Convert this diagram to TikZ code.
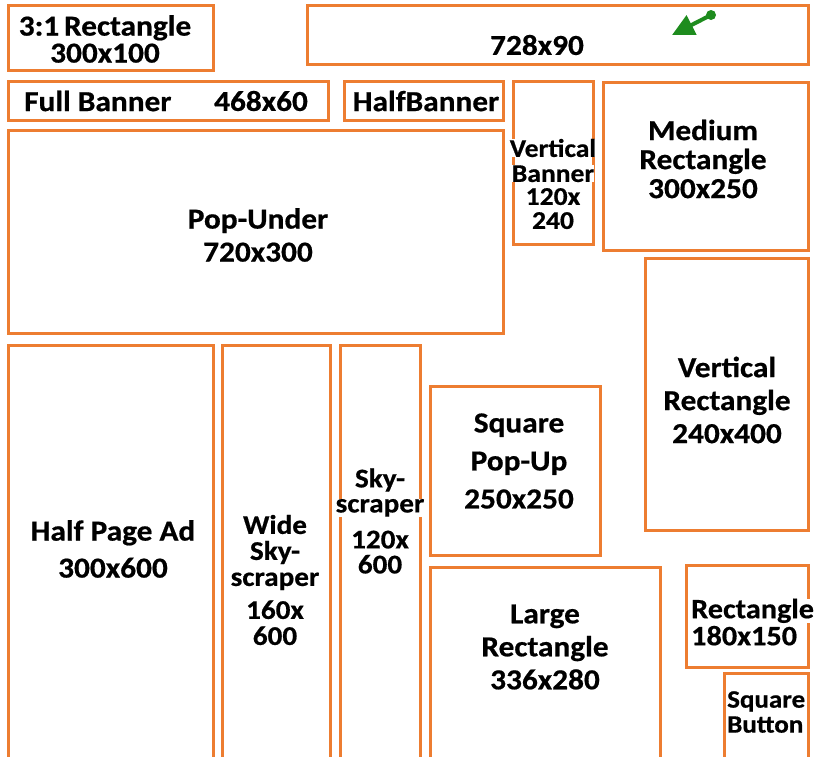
\documentclass[tikz,border=0pt]{standalone}
\usepackage{fontspec}
\newfontfamily\adfont{Carlito Bold}[FakeStretch=1.08, FakeBold=0.6]
\usetikzlibrary{arrows.meta}
\definecolor{adorange}{RGB}{237,125,49}
\definecolor{adgreen}{RGB}{30,140,30}
\newcommand{\wl}[1]{{\setlength\fboxsep{0pt}\colorbox{white}{#1}}}
\tikzset{
  adbox/.style={draw=adorange, line width=3pt},
  adlabel/.style={inner sep=1pt, align=center, text=black,
    font=\fontsize{29}{29}\adfont},
}
\begin{document}
\begin{tikzpicture}[x=1pt,y=-1pt]
\useasboundingbox (0,0) rectangle (818,756);
\fill[white] (0,0) rectangle (818,756);
\clip (0,0) rectangle (818,756);
% boxes
\draw[adbox] (8,5) rectangle (213,70);
\draw[adbox] (307,5) rectangle (808,64);
\draw[adbox] (8,81) rectangle (328,120);
\draw[adbox] (344,81) rectangle (503,120);
\draw[adbox] (513,81) rectangle (593,244);
\draw[adbox] (603,82) rectangle (808,250);
\draw[adbox] (8,130) rectangle (503,333);
\draw[adbox] (645,258) rectangle (808,530);
\draw[adbox] (8,345) rectangle (213,770);
\draw[adbox] (222,345) rectangle (330,770);
\draw[adbox] (340,345) rectangle (420,770);
\draw[adbox] (430,386) rectangle (600,555);
\draw[adbox] (430,567) rectangle (660,770);
\draw[adbox] (686,565) rectangle (808,667);
\draw[adbox] (724,673) rectangle (808,770);
% labels
\node[adlabel] (t31) at (105,39) {3:1\,Rectangle\\[-2pt]300x100};
\node[adlabel] (t728) at (537,45) {728x90};
\node[adlabel, anchor=west] (tfull) at (23,101) {Full Banner};
\node[adlabel] (tfull2) at (261,101) {468x60};
\node[adlabel] (thalf) at (426,101) {\wl{HalfBanner}};
\node[adlabel, font=\fontsize{25.5}{25}\adfont] (tvb) at (553,184) {\wl{Vertical}\\\wl{Banner}\\[-2pt]120x\\[-1pt]240};
\node[adlabel] (tmed) at (703,159) {Medium\\Rectangle\\300x250};
\node[adlabel] (tpop) at (258,235) {Pop-Under\\[4pt]720x300};
\node[adlabel] (tvr) at (727,400) {Vertical\\[4pt]Rectangle\\[4pt]240x400};
\node[adlabel] (thp) at (113,549) {Half Page Ad\\[8pt]300x600};
\node[adlabel, font=\fontsize{27}{26}\adfont] (tws) at (275,580) {Wide\\Sky-\\\wl{scraper}\\[7pt]160x\\600};
\node[adlabel, font=\fontsize{27}{25}\adfont] (tsk) at (380,521) {Sky-\\\wl{scraper}\\[11pt]120x\\600};
\node[adlabel] (tsq) at (519,461) {Square\\[9pt]Pop-Up\\[9pt]250x250};
\node[adlabel] (tlr) at (545,647) {Large\\[4pt]Rectangle\\[4pt]336x280};
\node[adlabel, anchor=west, align=left, font=\fontsize{28}{28}\adfont] (trect) at (690,622) {\wl{Rectangle}\\[-1pt]\wl{180x150}};
\node[adlabel, anchor=west, align=left, font=\fontsize{25}{25}\adfont] (tsb) at (726,712) {\wl{Square}\\\wl{Button}};
% green arrow
\coordinate (atail) at (711,15);
\coordinate (ahead) at (672,35);
\fill[adgreen] (atail) circle (5);
\draw[adgreen, line width=4pt, -{Triangle[length=22pt,width=21pt]}] (atail) -- (ahead);
\end{tikzpicture}
\end{document}
